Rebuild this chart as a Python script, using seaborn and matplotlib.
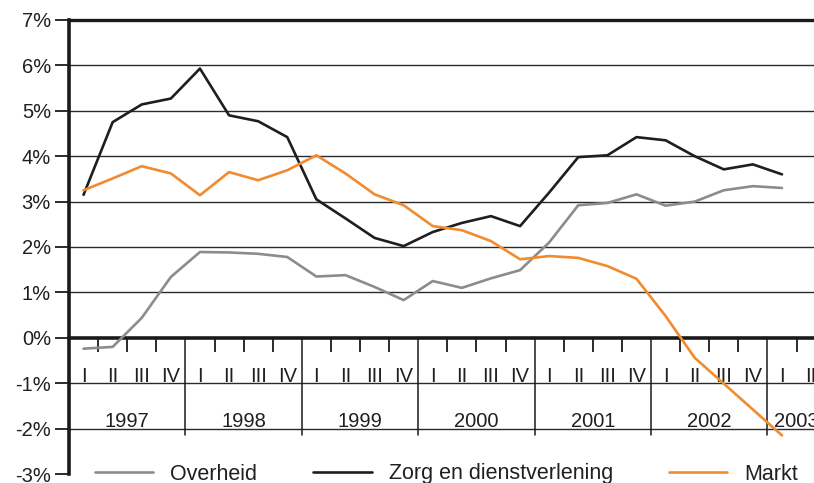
import numpy as np
import pandas as pd
import matplotlib
matplotlib.use("Agg")
import matplotlib.pyplot as plt
import seaborn as sns

# ---- data (quarterly, 1997 I .. 2003 I) ----
years = ["1997", "1998", "1999", "2000", "2001", "2002", "2003"]
quarter_names = ["I", "II", "III", "IV"]
overheid = [-0.24, -0.20, 0.44, 1.34, 1.89, 1.88, 1.85, 1.78,
            1.35, 1.38, 1.12, 0.83, 1.25, 1.10, 1.31, 1.49,
            2.10, 2.92, 2.97, 3.16, 2.91, 3.00, 3.25, 3.34, 3.30]
zorg = [3.15, 4.75, 5.14, 5.27, 5.93, 4.90, 4.77, 4.42,
        3.05, 2.63, 2.20, 2.02, 2.33, 2.53, 2.68, 2.46,
        3.20, 3.98, 4.02, 4.42, 4.35, 4.00, 3.71, 3.82, 3.60]
markt = [3.25, 3.51, 3.78, 3.62, 3.14, 3.65, 3.47, 3.69,
         4.02, 3.62, 3.16, 2.92, 2.46, 2.37, 2.13, 1.73,
         1.80, 1.76, 1.58, 1.30, 0.48, -0.44, -1.01, -1.58, -2.15]
series_names = ["Overheid", "Zorg en dienstverlening", "Markt"]
yticks = [-3, -2, -1, 0, 1, 2, 3, 4, 5, 6, 7]
ytick_labels = ["-3%", "-2%", "-1%", "0%", "1%", "2%", "3%", "4%", "5%", "6%", "7%"]

colors = {"Overheid": "#8c8c8c", "Zorg en dienstverlening": "#1e1e1e", "Markt": "#f28a2e"}

n = len(markt)
k = np.arange(n)
df = pd.DataFrame({"k": k, "Overheid": overheid,
                   "Zorg en dienstverlening": zorg, "Markt": markt})
long = df.melt(id_vars="k", var_name="series", value_name="value")

sns.set_theme(style="white")
plt.rcParams["font.family"] = ["Liberation Sans", "DejaVu Sans"]

fig = plt.figure(figsize=(8.14, 4.83), dpi=100)
ax = fig.add_axes([69 / 814, 9 / 483, 1 - 69 / 814, (474 - 20) / 483])

sns.lineplot(data=long, x="k", y="value", hue="series", hue_order=series_names,
             palette=colors, linewidth=1.9, ax=ax, legend=True, zorder=3)

fs = 14.5
txt_color = "#231f20"

# grid
ax.set_yticks(yticks)
ax.set_yticklabels(ytick_labels, fontsize=fs, color=txt_color)
for y in yticks:
    if y not in (0, 7, -3):
        ax.axhline(y, color="#2a2a2a", lw=1.0, zorder=1)

# spines
ax.spines["right"].set_visible(False)
ax.spines["left"].set_linewidth(2.6)
ax.spines["left"].set_color("#1a1a1a")
ax.spines["top"].set_linewidth(2.4)
ax.spines["top"].set_color("#1a1a1a")
ax.spines["bottom"].set_position(("data", 0))
ax.spines["bottom"].set_linewidth(2.6)
ax.spines["bottom"].set_color("#1a1a1a")
ax.spines["bottom"].set_zorder(2)

ax.tick_params(axis="y", length=10, width=1.3, color="#1a1a1a", pad=3, left=True)

# quarter labels (major ticks at quarter centres), boundaries as minor ticks
nq = 26
qpos = np.arange(nq)
qlabels = [quarter_names[i % 4] for i in range(nq)]
ax.set_xticks(qpos)
ax.set_xticklabels(qlabels, fontsize=fs, color=txt_color)
ax.tick_params(axis="x", which="major", length=0, pad=21, bottom=True)
bounds = [b - 0.5 for b in range(1, nq) if b % 4 != 0]
ax.set_xticks(bounds, minor=True)
ax.tick_params(axis="x", which="minor", length=10, width=1.3, color="#1a1a1a",
               direction="out", bottom=True)

# year separators and year labels
for i in range(1, len(years)):
    ax.plot([4 * i - 0.5, 4 * i - 0.5], [0, -2.15], color="#1a1a1a", lw=1.1,
            zorder=2, clip_on=False)
for i, yr in enumerate(years):
    xc = min(4 * i + 1.5, 24.5)
    ax.text(xc, -1.85, yr, ha="center", va="center", fontsize=fs, color=txt_color)

ax.set_xlabel("")
ax.set_ylabel("")
ax.set_xlim(-0.5, 25.1)
ax.set_ylim(-3, 7)

# legend
handles, labels = ax.get_legend_handles_labels()
leg = ax.legend(handles, labels, loc="center left", bbox_to_anchor=(0.035, 0.0),
                ncol=3, frameon=False, fontsize=15.5, handlelength=2.7,
                handletextpad=0.8, columnspacing=2.6, borderpad=0, borderaxespad=0)
for t in leg.get_texts():
    t.set_color(txt_color)

fig.savefig("out.png", dpi=100)
